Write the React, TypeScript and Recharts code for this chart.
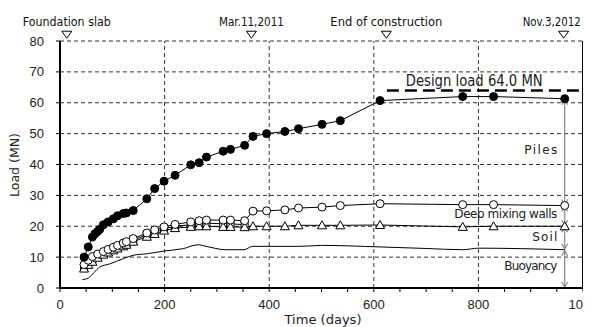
import React from 'react';
import {
  ComposedChart,
  Line,
  XAxis,
  YAxis,
  CartesianGrid,
  ReferenceLine,
  ReferenceDot,
} from 'recharts';

// measured loads, MN
const pileDays = [46, 54, 62, 67, 72, 76, 83, 92, 102, 110, 121, 127, 140, 166, 181, 199, 220, 250, 266, 280, 312, 326, 353, 369, 395, 430, 456, 501, 536, 612, 770, 829, 965];
const pileLoad = [10.0, 13.3, 16.5, 17.6, 18.3, 19.0, 20.5, 21.4, 22.4, 23.4, 24.1, 24.3, 25.1, 28.9, 32.2, 34.6, 36.5, 39.9, 40.6, 42.4, 44.3, 44.9, 46.2, 49.1, 50.0, 50.7, 51.6, 53.0, 54.2, 60.7, 62.0, 62.0, 61.3];

const wallDays = [46, 54, 62, 72, 83, 92, 102, 110, 121, 127, 140, 166, 181, 199, 220, 250, 266, 280, 312, 326, 353, 369, 395, 430, 456, 501, 536, 612, 770, 829, 965];
const wallLoad = [7.6, 9.0, 10.2, 11.0, 11.8, 12.5, 13.2, 13.8, 14.6, 15.0, 16.0, 17.8, 18.8, 19.8, 20.6, 21.4, 21.8, 22.0, 22.0, 22.0, 21.8, 24.9, 25.0, 25.3, 25.9, 26.2, 26.7, 27.3, 27.0, 27.0, 26.7];

const squareDays = [46, 54, 62, 72, 83, 92, 102, 110, 121, 127, 140, 166, 181, 199, 220, 250, 266, 280, 312, 326, 353];
const squareLoad = [7.0, 8.2, 9.3, 10.3, 11.2, 12.0, 12.7, 13.3, 14.0, 14.5, 15.5, 17.2, 18.2, 19.2, 20.0, 20.5, 20.8, 21.0, 20.8, 20.8, 20.5];

const soilDays = [46, 54, 62, 72, 83, 92, 102, 110, 121, 127, 140, 166, 181, 199, 220, 250, 266, 280, 312, 326, 353, 369, 395, 430, 456, 501, 536, 612, 770, 829, 965];
const soilLoad = [6.3, 7.5, 8.5, 9.8, 10.8, 11.5, 12.2, 12.8, 13.5, 14.0, 15.0, 16.6, 17.5, 18.6, 19.4, 19.8, 20.0, 20.0, 19.8, 19.8, 19.7, 20.0, 20.0, 20.0, 20.3, 20.3, 20.3, 20.4, 19.8, 20.0, 20.0];

const buoyDays = [43, 54, 65, 76, 95, 121, 140, 167, 200, 234, 264, 279, 317, 352, 368, 459, 500, 612, 700, 770, 800, 965];
const buoyLoad = [2.7, 3.2, 5.0, 6.8, 7.8, 9.5, 10.6, 11.1, 12.0, 12.7, 14.0, 13.5, 12.4, 12.4, 13.5, 13.5, 13.8, 13.3, 12.8, 12.4, 12.9, 12.4];

const xMajorTicks = [0, 200, 400, 600, 800, 1000];
const xMinorTicks = [0, 50, 100, 150, 200, 250, 300, 350, 400, 450, 500, 550, 600, 650, 700, 750, 800, 850, 900, 950, 1000];
const yTicks = [0, 10, 20, 30, 40, 50, 60, 70, 80];

const events = [
  { day: 13, text: 'Foundation slab', anchor: 'middle', width: 88 },
  { day: 366, text: 'Mar.11,2011', anchor: 'middle', width: 65 },
  { day: 624, text: 'End of construction', anchor: 'middle', width: 112 },
  { day: 963, text: 'Nov.3,2012', anchor: 'end', width: 58 },
];

const designLoad = 64;
const designStart = 625;
const arrowDay = 965;

const componentLabels = [
  { text: 'Piles', y: 44.6, width: 33 },
  { text: 'Deep mixing walls', y: 23.8, width: 103 },
  { text: 'Soil', y: 16.4, width: 25 },
  { text: 'Buoyancy', y: 7.0, width: 53 },
];

const toData = (days: number[], loads: number[]) => days.map((day, i) => ({ day, load: loads[i] }));

const pileData = toData(pileDays, pileLoad);
const wallData = toData(wallDays, wallLoad);
const squareData = toData(squareDays, squareLoad);
const soilData = toData(soilDays, soilLoad);
const buoyData = toData(buoyDays, buoyLoad);

const arrowLevels = [
  pileLoad[pileLoad.length - 1],
  wallLoad[wallLoad.length - 1],
  soilLoad[soilLoad.length - 1],
  buoyLoad[buoyLoad.length - 1],
  0,
];

const noteFont = '"DejaVu Sans", sans-serif';

const Triangle = (props: any) => {
  const { cx, cy, index } = props;
  if (cx == null || cy == null) return <g key={index} />;
  return (
    <path
      key={index}
      d={`M${cx},${cy - 4.5} L${cx + 4.5},${cy + 3.5} L${cx - 4.5},${cy + 3.5} Z`}
      fill="#fff"
      stroke="#000"
      strokeWidth={1}
    />
  );
};

const Square = (props: any) => {
  const { cx, cy, index } = props;
  if (cx == null || cy == null) return <g key={index} />;
  return <rect key={index} x={cx - 3.5} y={cy - 3.5} width={7} height={7} fill="#fff" stroke="#000" strokeWidth={1} />;
};

const ArrowShape = (props: any) => {
  const { x1, y1, x2, y2 } = props;
  const top = Math.min(y1, y2);
  const bot = Math.max(y1, y2);
  const x = x1;
  return (
    <g stroke="#8a8a8a" strokeWidth={1.2} fill="none">
      <line x1={x} y1={top + 1} x2={x} y2={bot - 1} />
      <path d={`M${x - 3},${top + 6} L${x},${top + 1} L${x + 3},${top + 6}`} />
      <path d={`M${x - 3},${bot - 6} L${x},${bot - 1} L${x + 3},${bot - 6}`} />
    </g>
  );
};

const EventMark = (ev: { text: string; anchor: string; width: number }) => (props: any) => {
  const { cx, cy } = props;
  const tx = ev.anchor === 'end' ? cx + 17 : cx;
  return (
    <g>
      <path d={`M${cx - 5},${cy - 3} L${cx + 5},${cy - 3} L${cx},${cy + 4} Z`} fill="#fff" stroke="#000" strokeWidth={1} />
      <text
        x={tx}
        y={cy - 8}
        textAnchor={ev.anchor as any}
        fontFamily={noteFont}
        fontSize={12}
        textLength={ev.width}
        lengthAdjust="spacingAndGlyphs"
        fill="#111"
      >
        {ev.text}
      </text>
    </g>
  );
};

const NoteText = (text: string, width: number, size: number, adjust: string) => (props: any) => {
  const { cx, cy } = props;
  return (
    <text
      x={cx}
      y={cy}
      textAnchor="end"
      dominantBaseline="middle"
      fontFamily={noteFont}
      fontSize={size}
      textLength={width}
      lengthAdjust={adjust as any}
      fill="#222"
    >
      {text}
    </text>
  );
};

const tickStyle = { fontFamily: '"Liberation Sans", Arial, sans-serif', fontSize: 13, fill: '#222' };

const XTick = (props: any) => {
  const { x, y, payload } = props;
  if (!xMajorTicks.includes(payload.value)) return <g />;
  return (
    <text x={x} y={y} dy="0.71em" textAnchor="middle" {...tickStyle}>
      {payload.value}
    </text>
  );
};

const YTitle = () => (
  <text
    x={7}
    y={157}
    transform="rotate(-90, 7, 157)"
    textAnchor="middle"
    dominantBaseline="middle"
    fontFamily={noteFont}
    fontSize={12}
    textLength={64}
    lengthAdjust="spacingAndGlyphs"
    fill="#222"
  >
    Load (MN)
  </text>
);

const XTitle = () => (
  <text
    x={315}
    y={316}
    textAnchor="middle"
    fontFamily={noteFont}
    fontSize={12}
    textLength={77}
    lengthAdjust="spacingAndGlyphs"
    fill="#222"
  >
    Time (days)
  </text>
);

export default function App() {
  return (
    <ComposedChart
      width={583}
      height={319}
      margin={{ top: 33, right: 8, left: 0, bottom: 0 }}
      style={{ background: '#fff' }}
    >
      <CartesianGrid vertical={false} stroke="#333" strokeDasharray="4 3" />
      <XAxis
        dataKey="day"
        type="number"
        domain={[0, 1000]}
        ticks={xMinorTicks}
        interval={0}
        height={39}
        tickSize={4}
        tickMargin={8}
        tick={<XTick />}
        axisLine={{ stroke: '#000', strokeWidth: 2 }}
        tickLine={{ stroke: '#000' }}
        allowDuplicatedCategory={false}
        label={{ content: <XTitle /> }}
      />
      <YAxis
        type="number"
        domain={[0, 80]}
        ticks={yTicks}
        interval={0}
        width={52}
        tickSize={4}
        tickMargin={12}
        tick={tickStyle}
        axisLine={{ stroke: '#000', strokeWidth: 2 }}
        tickLine={{ stroke: '#000' }}
        label={{ content: <YTitle /> }}
      />
      {xMajorTicks.slice(1, -1).map((t) => (
        <ReferenceLine key={t} x={t} stroke="#333" strokeDasharray="4 3" />
      ))}
      <ReferenceLine x={1000} stroke="#000" strokeWidth={2} />
      <ReferenceLine
        segment={[{ x: designStart, y: designLoad }, { x: 1000, y: designLoad }]}
        stroke="#000"
        strokeWidth={2.5}
        strokeDasharray="12 6"
      />
      <ReferenceDot x={923} y={66.9} r={0} ifOverflow="visible" shape={NoteText('Design load 64.0 MN', 137, 15, 'spacingAndGlyphs') as any} />

      {arrowLevels.slice(0, -1).map((top, i) => (
        <ReferenceLine
          key={i}
          segment={[{ x: arrowDay, y: top }, { x: arrowDay, y: arrowLevels[i + 1] }]}
          shape={ArrowShape}
        />
      ))}

      <Line data={buoyData} dataKey="load" type="monotone" stroke="#000" strokeWidth={1} dot={false} isAnimationActive={false} />
      <Line data={squareData} dataKey="load" type="linear" stroke="#000" strokeWidth={1} dot={<Square />} isAnimationActive={false} />
      <Line data={soilData} dataKey="load" type="linear" stroke="#000" strokeWidth={1} dot={<Triangle />} isAnimationActive={false} />
      <Line data={wallData} dataKey="load" type="linear" stroke="#000" strokeWidth={1} dot={{ r: 4, fill: '#fff', stroke: '#000', strokeWidth: 1 }} isAnimationActive={false} />
      <Line data={pileData} dataKey="load" type="linear" stroke="#000" strokeWidth={1} dot={{ r: 4, fill: '#000', stroke: '#000' }} isAnimationActive={false} />

      {componentLabels.map((c) => (
        <ReferenceDot key={c.text} x={951} y={c.y} r={0} ifOverflow="visible" shape={NoteText(c.text, c.width, 12, 'spacing') as any} />
      ))}

      {events.map((ev) => (
        <ReferenceDot key={ev.text} x={ev.day} y={82.2} r={0} ifOverflow="visible" shape={EventMark(ev) as any} />
      ))}
    </ComposedChart>
  );
}
